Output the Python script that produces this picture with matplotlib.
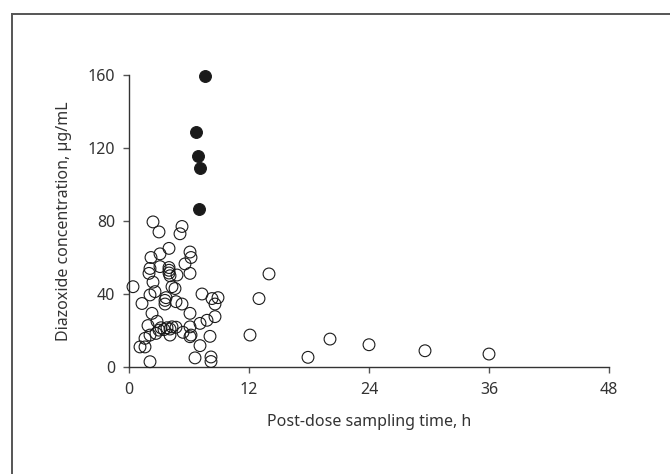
import matplotlib
matplotlib.use("Agg")
import matplotlib.pyplot as plt
from matplotlib.lines import Line2D

plt.rcParams['font.family'] = ['Noto Sans', 'DejaVu Sans']

# open circles: post-dose time (h) and diazoxide concentration (ug/mL)
open_time = [0.4, 2.4, 3.0, 5.3, 5.1, 4.0, 3.1, 2.2, 6.1, 6.2,
             5.6, 3.1, 2.1, 2.0, 4.0, 4.0, 4.0, 4.1, 4.8, 6.1,
             2.4, 4.3, 4.6, 2.6, 2.1, 7.3, 8.3, 8.9, 3.7, 3.6,
             1.3, 3.6, 4.7, 5.3, 8.6, 2.3, 6.1, 8.6, 7.8, 7.1,
             2.8, 1.9, 3.2, 3.5, 3.8, 4.1, 4.3, 4.7, 3.0, 6.1,
             5.4, 6.2, 6.1, 8.1, 4.1, 2.7, 2.1, 1.6, 1.1, 1.6,
             7.1, 2.1, 6.6, 8.2, 8.2, 14.0, 13.0, 12.1, 17.9, 20.1,
             24.0, 29.6, 36.0]
open_conc = [44.0, 79.5, 74.0, 77.0, 73.0, 65.0, 62.0, 60.0, 63.0, 60.0,
             56.5, 55.0, 54.0, 51.3, 54.5, 53.0, 51.5, 50.0, 50.4, 51.3,
             46.5, 44.0, 43.0, 41.3, 39.5, 40.0, 37.5, 38.0, 38.0, 36.5,
             34.8, 34.5, 35.8, 34.5, 34.5, 29.4, 29.4, 27.6, 25.6, 23.9,
             25.0, 22.7, 21.5, 20.5, 21.5, 20.8, 22.0, 21.8, 20.2, 22.0,
             19.0, 17.5, 16.6, 16.8, 17.5, 18.4, 17.5, 15.7, 11.0, 11.0,
             11.7, 2.9, 5.0, 5.5, 3.0, 51.0, 37.5, 17.5, 5.3, 15.3,
             12.2, 8.9, 7.1]

# filled circles
filled_time = [7.6, 6.7, 6.9, 7.1, 7.0]
filled_conc = [159.5, 128.8, 115.6, 109.0, 86.6]

x_ticks = [0, 12, 24, 36, 48]
y_ticks = [0, 40, 80, 120, 160]

fig = plt.figure(figsize=(6.7, 4.74), dpi=100)

# outer frame (only top and left visible in the crop)
frame_col = '#555555'
fig.add_artist(Line2D([12 / 670, 1.0], [1 - 14 / 474, 1 - 14 / 474],
                      transform=fig.transFigure, color=frame_col, lw=1.4))
fig.add_artist(Line2D([12 / 670, 12 / 670], [0.0, 1 - 14 / 474],
                      transform=fig.transFigure, color=frame_col, lw=1.4))

ax = fig.add_axes([129 / 670, 1 - 367 / 474, 480 / 670, 292 / 474])

ax.scatter(open_time, open_conc, s=72, facecolors='none',
           edgecolors='#1a1a1a', linewidths=0.8, zorder=3, clip_on=False)
ax.scatter(filled_time, filled_conc, s=72, facecolors='#1a1a1a',
           edgecolors='#1a1a1a', linewidths=0.8, zorder=4, clip_on=False)

ax.set_xlim(0, 48)
ax.set_ylim(0, 160)
ax.set_xticks(x_ticks)
ax.set_yticks(y_ticks)

for side in ['top', 'right']:
    ax.spines[side].set_visible(False)
for side in ['left', 'bottom']:
    ax.spines[side].set_color('#333333')
    ax.spines[side].set_linewidth(1.0)

text_col = '#333333'
ax.tick_params(direction='out', length=4, width=1.0, color='#555555',
               labelsize=11.5, labelcolor=text_col)
ax.tick_params(axis='x', pad=7)
ax.tick_params(axis='y', pad=6)

ax.set_xlabel('Post-dose sampling time, h', fontsize=11.5, color=text_col, labelpad=11)
ax.set_ylabel('Diazoxide concentration, µg/mL', fontsize=11.5, color=text_col, labelpad=11)

fig.savefig('out.png', dpi=100)
